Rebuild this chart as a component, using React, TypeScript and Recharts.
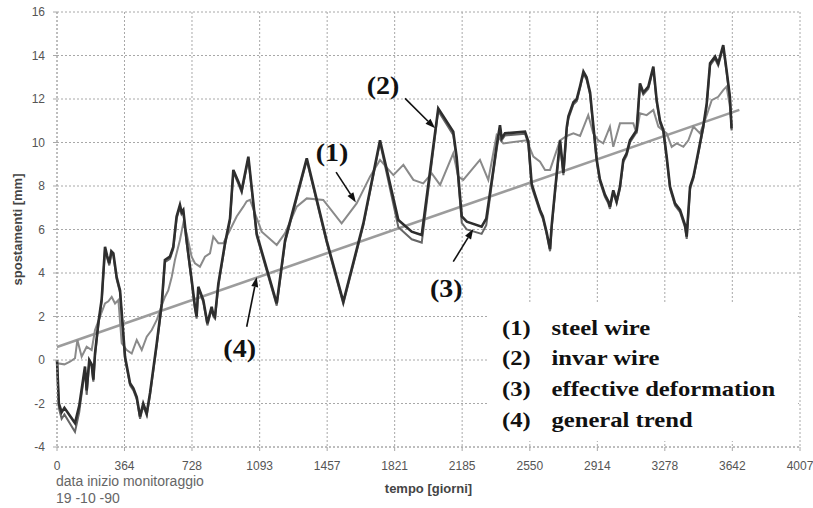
import React from 'react'
import { LineChart, Line, XAxis, YAxis, CartesianGrid, ReferenceLine } from 'recharts'

// days since start of monitoring (19-10-90) vs displacement in mm
const xTicks = [0, 364, 728, 1093, 1457, 1821, 2185, 2550, 2914, 3278, 3642, 4007]
const yTicks = [-4, -2, 0, 2, 4, 6, 8, 10, 12, 14, 16]

const steelWire: [number, number][] = [
  [0, -0.15], [40, -0.2], [70, -0.08], [97, 0.08], [110, 0.92], [133, 0.15], [160, 0.61],
  [187, 0.46], [205, 1.38], [232, 1.99], [259, 2.6], [277, 2.7], [295, 2.9], [313, 2.6],
  [331, 2.76], [349, 0.77], [376, 0.46], [403, 0.3], [430, 0.92], [457, 0.46], [484, 1.07],
  [511, 1.38], [538, 1.84], [556, 2.3], [582, 2.9], [600, 3.2], [619, 3.83], [636, 4.6],
  [663, 5.52], [681, 6.28], [699, 5.83], [726, 4.75], [744, 4.45], [771, 4.29], [798, 4.75],
  [825, 4.9], [843, 5.67], [870, 5.37], [897, 5.37], [933, 5.98], [969, 6.6], [1005, 7.05],
  [1023, 7.3], [1041, 7.36], [1104, 5.9], [1185, 5.29], [1230, 5.83], [1293, 7.05],
  [1347, 7.43], [1436, 7.36], [1535, 6.28], [1616, 7.2], [1688, 8.43], [1742, 9.2],
  [1814, 8.5], [1868, 8.97], [1922, 8.28], [1975, 8.12], [2021, 8.58], [2066, 8.05],
  [2137, 9.5], [2164, 8.43], [2191, 8.28], [2281, 9.2], [2326, 8.28], [2371, 10.34],
  [2407, 9.96], [2533, 10.1], [2569, 9.35], [2605, 9.12], [2632, 8.74], [2659, 8.74],
  [2713, 10.1], [2749, 10.3], [2785, 10.42], [2821, 10.3], [2865, 11.26], [2892, 10.42],
  [2919, 10.1], [2946, 9.96], [2982, 10.73], [3000, 9.8], [3036, 10.88], [3108, 10.88],
  [3126, 10.42], [3144, 11.34], [3180, 11.26], [3216, 11.5], [3243, 10.73], [3288, 10.42],
  [3315, 9.8], [3342, 9.96], [3378, 9.8], [3405, 10.1], [3432, 10.73], [3468, 10.42],
  [3495, 11.03], [3531, 11.95], [3566, 12.1], [3593, 12.41], [3611, 12.57], [3629, 11.65],
  [3638, 10.8],
]

const invarWire: [number, number][] = [
  [0, 0.0], [10, -2.0], [25, -2.4], [40, -2.2], [97, -2.9], [120, -2.1], [151, -0.3],
  [160, -1.4], [174, 0.0], [187, -0.2], [196, -0.9], [205, 0.3], [223, 1.7], [241, 2.8],
  [259, 5.2], [270, 4.8], [282, 4.45], [293, 5.0], [304, 4.9], [322, 3.8], [340, 3.2],
  [367, 0.15], [394, -1.07], [412, -1.3], [430, -1.7], [448, -2.6], [465, -2.0], [484, -2.45],
  [502, -1.5], [538, 0.77], [565, 2.6], [582, 4.6], [609, 4.75], [627, 5.2], [645, 6.6],
  [663, 7.13], [672, 6.8], [681, 6.9], [699, 5.5], [726, 3.7], [744, 2.45], [753, 2.0],
  [762, 3.37], [789, 2.76], [811, 1.69], [834, 2.45], [843, 2.1], [852, 2.0], [870, 3.5],
  [906, 5.37], [933, 6.5], [951, 8.74], [978, 8.2], [996, 7.8], [1032, 9.35], [1077, 5.8],
  [1185, 2.6], [1230, 5.5], [1347, 9.27], [1454, 5.5], [1544, 2.68], [1652, 6.28],
  [1742, 10.1], [1841, 6.44], [1913, 5.9], [1967, 5.75], [2056, 11.57], [2137, 10.5],
  [2155, 9.35], [2183, 6.6], [2210, 6.36], [2290, 6.13], [2315, 6.5], [2353, 8.74],
  [2370, 9.8], [2389, 10.8], [2398, 10.2], [2416, 10.42], [2524, 10.5], [2542, 10.04],
  [2560, 8.1], [2578, 7.6], [2605, 6.9], [2620, 6.6], [2640, 5.9], [2659, 5.1], [2668, 6.2],
  [2686, 7.8], [2713, 10.1], [2731, 8.6], [2749, 10.7], [2758, 11.2], [2785, 11.85],
  [2803, 12.0], [2821, 12.6], [2839, 13.26], [2856, 13.0], [2875, 12.3], [2884, 11.5],
  [2911, 9.2], [2928, 8.3], [2955, 7.6], [2973, 7.3], [2982, 7.05], [3000, 7.8],
  [3018, 7.3], [3036, 7.97], [3054, 9.2], [3072, 9.5], [3090, 10.1], [3126, 10.57],
  [3144, 12.72], [3162, 12.3], [3189, 12.57], [3216, 13.49], [3234, 11.95], [3252, 11.0],
  [3270, 10.57], [3288, 9.35], [3306, 7.97], [3333, 7.2], [3360, 6.9], [3387, 6.2],
  [3396, 5.67], [3414, 7.97], [3432, 8.43], [3450, 9.2], [3485, 10.73], [3504, 11.8],
  [3522, 13.64], [3549, 13.95], [3566, 13.64], [3593, 14.48], [3611, 13.33], [3629, 12.1],
  [3638, 10.65],
]

const effectiveDeformation: [number, number][] = [
  [0, 0.0], [10, -2.2], [25, -2.7], [40, -2.5], [97, -3.3], [120, -2.4], [151, -0.4],
  [160, -1.6], [174, -0.1], [187, -0.3], [196, -1.0], [205, 0.2], [223, 1.6], [241, 2.7],
  [259, 5.1], [270, 4.7], [282, 4.35], [293, 4.9], [304, 4.8], [322, 3.7], [340, 3.1],
  [367, 0.05], [394, -1.17], [412, -1.4], [430, -1.8], [448, -2.7], [465, -2.1], [484, -2.55],
  [502, -1.6], [538, 0.67], [565, 2.5], [582, 4.5], [609, 4.65], [627, 5.1], [645, 6.5],
  [663, 7.03], [672, 6.7], [681, 6.8], [699, 5.4], [726, 3.6], [744, 2.35], [753, 1.9],
  [762, 3.27], [789, 2.66], [811, 1.59], [834, 2.35], [843, 2.0], [852, 1.9], [870, 3.4],
  [906, 5.27], [933, 6.4], [951, 8.64], [978, 8.1], [996, 7.7], [1032, 9.25], [1077, 5.7],
  [1185, 2.5], [1230, 5.4], [1347, 9.17], [1454, 5.4], [1544, 2.58], [1652, 6.18],
  [1742, 10.0], [1841, 6.1], [1913, 5.55], [1967, 5.4], [2056, 11.45], [2137, 10.35],
  [2155, 9.2], [2183, 6.3], [2210, 6.0], [2290, 5.8], [2315, 6.2], [2353, 8.6],
  [2370, 9.6], [2389, 10.7], [2398, 10.1], [2416, 10.32], [2524, 10.4], [2542, 9.94],
  [2560, 7.95], [2578, 7.5], [2605, 6.8], [2620, 6.5], [2640, 5.8], [2659, 5.0], [2668, 6.1],
  [2686, 7.7], [2713, 10.0], [2731, 8.5], [2749, 10.6], [2758, 11.1], [2785, 11.75],
  [2803, 11.9], [2821, 12.5], [2839, 13.16], [2856, 12.9], [2875, 12.2], [2884, 11.4],
  [2911, 9.1], [2928, 8.2], [2955, 7.5], [2973, 7.2], [2982, 6.95], [3000, 7.7],
  [3018, 7.2], [3036, 7.87], [3054, 9.1], [3072, 9.4], [3090, 10.0], [3126, 10.47],
  [3144, 12.62], [3162, 12.2], [3189, 12.47], [3216, 13.39], [3234, 11.85], [3252, 10.9],
  [3270, 10.47], [3288, 9.25], [3306, 7.87], [3333, 7.1], [3360, 6.8], [3387, 6.1],
  [3396, 5.57], [3414, 7.87], [3432, 8.33], [3450, 9.1], [3485, 10.63], [3504, 11.7],
  [3522, 13.54], [3549, 13.85], [3566, 13.54], [3593, 14.38], [3611, 13.23], [3629, 12.0],
  [3638, 10.55],
]

const generalTrend: [number, number][] = [[0, 0.6], [3680, 11.5]]

const legendTags = ['(1)', '(2)', '(3)', '(4)']
const legendNames = ['steel wire', 'invar wire', 'effective deformation', 'general trend']

// numbered callouts: arrow from tail to head (data coords), tag offset from the tail in px
const callouts = [
  { tag: '(1)', tail: { x: 1505, y: 8.64 }, head: { x: 1612, y: 7.24 }, dx: -4, dy: -20 },
  { tag: '(2)', tail: { x: 1877, y: 12.03 }, head: { x: 2039, y: 10.65 }, dx: -22, dy: -13 },
  { tag: '(3)', tail: { x: 2137, y: 4.52 }, head: { x: 2245, y: 6.02 }, dx: -7, dy: 27 },
  { tag: '(4)', tail: { x: 1023, y: 1.53 }, head: { x: 1077, y: 3.82 }, dx: -7, dy: 22 },
]

const toRows = (pts: [number, number][]) => pts.map(([day, mm]) => ({ day, mm }))

const SANS = '"Liberation Sans", Arial, sans-serif'
const SERIF = '"Liberation Serif", "Times New Roman", serif'

function calloutShape(tag: string, dx: number, dy: number) {
  return (props: any) => {
    const { x1, y1, x2, y2 } = props
    const ang = Math.atan2(y2 - y1, x2 - x1)
    const len = 10
    const half = 3.5
    const bx = x2 - len * Math.cos(ang)
    const by = y2 - len * Math.sin(ang)
    const px = -Math.sin(ang) * half
    const py = Math.cos(ang) * half
    return (
      <g>
        <line x1={x1} y1={y1} x2={bx} y2={by} stroke="#111" strokeWidth={1.6} />
        <polygon points={`${x2},${y2} ${bx + px},${by + py} ${bx - px},${by - py}`} fill="#111" />
        <text
          transform={`translate(${x1 + dx},${y1 + dy}) scale(1.12,1)`}
          textAnchor="middle"
          dominantBaseline="central"
          fontFamily={SERIF}
          fontWeight="bold"
          fontSize={25}
          fill="#111"
        >
          {tag}
        </text>
      </g>
    )
  }
}

export default function App() {
  return (
    <div style={{ position: 'fixed', left: 0, top: 0, width: 813, height: 508, background: '#fff' }}>
      <LineChart width={813} height={508} margin={{ top: 12, right: 13, bottom: 0, left: 0 }}>
        <CartesianGrid stroke="#a8a8a8" strokeDasharray="2 2" />
        <XAxis
          type="number"
          dataKey="day"
          domain={[0, 4007]}
          ticks={xTicks}
          height={61}
          tickSize={4}
          tickMargin={10}
          axisLine={{ stroke: '#a8a8a8', strokeDasharray: '2 2' }}
          tickLine={{ stroke: '#a8a8a8' }}
          tick={{ fill: '#555', fontSize: 12, fontFamily: SANS }}
          label={{
            value: 'tempo [giorni]',
            position: 'insideBottom',
            offset: 15,
            style: { fill: '#444', fontSize: 13, fontWeight: 'bold', fontFamily: SANS },
          }}
        />
        <YAxis
          type="number"
          dataKey="mm"
          domain={[-4, 16]}
          ticks={yTicks}
          width={57}
          tickSize={4}
          tickMargin={8}
          axisLine={{ stroke: '#a8a8a8', strokeDasharray: '2 2' }}
          tickLine={{ stroke: '#a8a8a8' }}
          tick={{ fill: '#555', fontSize: 12, fontFamily: SANS }}
          label={{
            value: 'spostamenti [mm]',
            angle: -90,
            position: 'insideLeft',
            offset: 17,
            style: { textAnchor: 'middle', fill: '#444', fontSize: 13, fontWeight: 'bold', fontFamily: SANS },
          }}
        />
        <Line data={toRows(generalTrend)} dataKey="mm" type="linear" stroke="#9c9c9c" strokeWidth={2.6} dot={false} activeDot={false} isAnimationActive={false} />
        <Line data={toRows(steelWire)} dataKey="mm" type="linear" stroke="#8a8a8a" strokeWidth={2} dot={false} activeDot={false} isAnimationActive={false} />
        <Line data={toRows(effectiveDeformation)} dataKey="mm" type="linear" stroke="#666" strokeWidth={2} dot={false} activeDot={false} isAnimationActive={false} />
        <Line data={toRows(invarWire)} dataKey="mm" type="linear" stroke="#2e2e2e" strokeWidth={2.6} dot={false} activeDot={false} isAnimationActive={false} />
        {callouts.map((c) => (
          <ReferenceLine
            key={c.tag}
            segment={[c.tail, c.head]}
            shape={calloutShape(c.tag, c.dx, c.dy)}
          />
        ))}
      </LineChart>

      <svg
        width={813}
        height={508}
        style={{ position: 'absolute', left: 0, top: 0, pointerEvents: 'none' }}
      >
        <rect x={488} y={302} width={310} height={139} fill="#fff" />
        {legendTags.map((tag, i) => (
          <g key={tag} fontFamily={SERIF} fontWeight="bold" fontSize={22} fill="#111">
            <text transform={`translate(502,${327 + i * 30.7}) scale(1.12,1)`} dominantBaseline="central">
              {tag}
            </text>
            <text transform={`translate(551.5,${327 + i * 30.7}) scale(1.12,1)`} dominantBaseline="central">
              {legendNames[i]}
            </text>
          </g>
        ))}
        <text x={56} y={486} fontFamily={SANS} fontSize={14} fill="#666">
          data inizio monitoraggio
        </text>
        <text x={56} y={503} fontFamily={SANS} fontSize={14} fill="#666">
          19 -10 -90
        </text>
      </svg>
    </div>
  )
}
